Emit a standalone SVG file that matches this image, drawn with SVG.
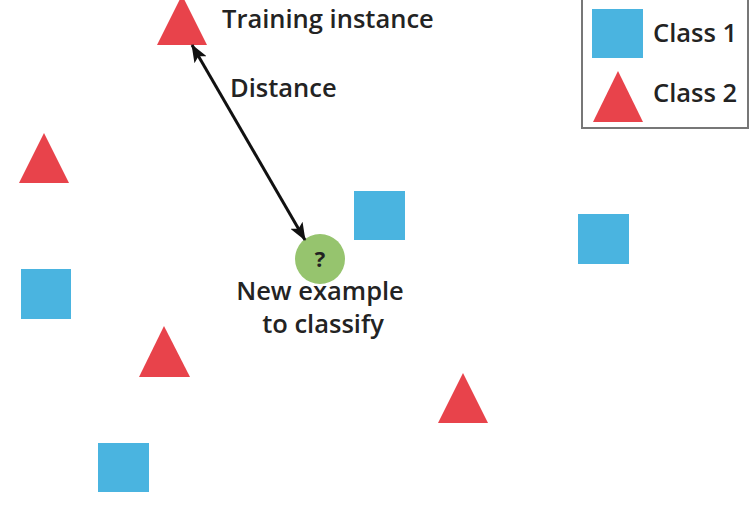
<svg xmlns="http://www.w3.org/2000/svg" width="756" height="517" viewBox="0 0 756 517">
<style>
.sq{fill:#4ab4e0}
.tri{fill:#e8434b}
.t{font-family:"Open Sans","Noto Sans",sans-serif;font-weight:600;font-size:25.5px;fill:#232323}
</style>
<defs>
<marker id="ah" viewBox="0 0 18 14" refX="17" refY="7" markerWidth="18" markerHeight="14" markerUnits="userSpaceOnUse" orient="auto-start-reverse">
<path d="M0,0 L18,7 L0,14 L4,7 Z" fill="#111"/>
</marker>
</defs>
<rect width="756" height="517" fill="#fff"/>
<g id="legend">
<rect x="582" y="-5" width="166" height="133" fill="none" stroke="#777" stroke-width="2"/>
<rect class="sq" x="592" y="9" width="51" height="49"/>
<text class="t" x="653" y="42">Class 1</text>
<polygon class="tri" points="593,122 643,122 618,71"/>
<text class="t" x="653" y="102">Class 2</text>
</g>
<g id="training">
<polygon class="tri" points="157,45 207,45 182,-5"/>
<text class="t" x="222" y="28">Training instance</text>
</g>
<g id="tri2"><polygon class="tri" points="19,183 69,183 44,133"/></g>
<g id="tri3"><polygon class="tri" points="139,377 190,377 164,326"/></g>
<g id="tri4"><polygon class="tri" points="438,423 488,423 463,373"/></g>
<g id="sq1"><rect class="sq" x="21" y="269" width="50" height="50"/></g>
<g id="sq2"><rect class="sq" x="98" y="443" width="51" height="49"/></g>
<g id="sq3"><rect class="sq" x="354" y="191" width="51" height="49"/></g>
<g id="sq4"><rect class="sq" x="578" y="214" width="51" height="50"/></g>
<g id="new">
<circle cx="320" cy="259" r="25" fill="#96c46e"/>
<text x="320" y="267" text-anchor="middle" font-family="Open Sans, sans-serif" font-weight="700" font-size="22" fill="#222">?</text>
<text class="t" x="320" y="300" text-anchor="middle">New example</text>
<text class="t" x="323" y="333" text-anchor="middle">to classify</text>
</g>
<g id="connectors">
<line x1="192" y1="45" x2="305" y2="240" stroke="#111" stroke-width="3" marker-start="url(#ah)" marker-end="url(#ah)"/>
<text class="t" x="230" y="97">Distance</text>
</g>
</svg>
